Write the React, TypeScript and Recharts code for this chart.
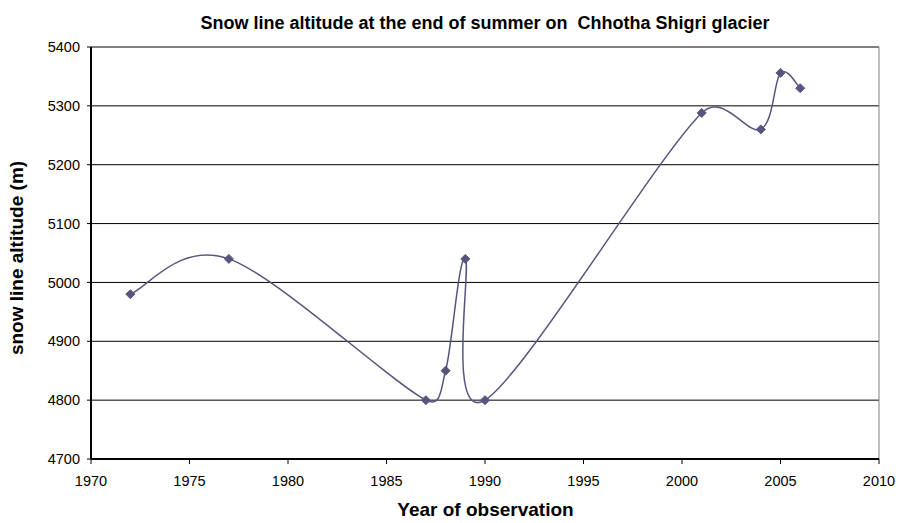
import React from 'react';
import { LineChart, Line, XAxis, YAxis, CartesianGrid, ReferenceLine } from 'recharts';

const years = [1972, 1977, 1987, 1988, 1989, 1990, 2001, 2004, 2005, 2006];
const altitudes = [4980, 5040, 4800, 4850, 5040, 4800, 5288, 5260, 5356, 5330];
const xTicks = [1970, 1975, 1980, 1985, 1990, 1995, 2000, 2005, 2010];
const yTicks = [4700, 4800, 4900, 5000, 5100, 5200, 5300, 5400];

const data = years.map((y, i) => ({ year: y, alt: altitudes[i] }));

const LINE = '#55557f';
const FONT = 'Liberation Sans, Arial, sans-serif';

function dist(a: number[], b: number[]) {
  return Math.hypot(a[0] - b[0], a[1] - b[1]);
}

// Excel-style smoothed line (Catmull-Rom with control points capped at half segment length)
function excelCurve(context: any) {
  let pts: number[][] = [];
  return {
    areaStart() {},
    areaEnd() {},
    lineStart() {
      pts = [];
    },
    point(x: number, y: number) {
      pts.push([+x, +y]);
    },
    lineEnd() {
      const n = pts.length;
      if (!n) return;
      context.moveTo(pts[0][0], pts[0][1]);
      for (let i = 0; i < n - 1; i++) {
        const p0 = pts[i - 1] || pts[i];
        const p1 = pts[i];
        const p2 = pts[i + 1];
        const p3 = pts[i + 2] || p2;
        const d02 = dist(p0, p2);
        const d12 = dist(p1, p2);
        const d13 = dist(p1, p3);
        let f1 = 1 / 6;
        let f2 = 1 / 6;
        if (d02 / 6 >= d12 / 2 && d02 > 0) f1 = d12 / (2 * d02);
        if (d13 / 6 >= d12 / 2 && d13 > 0) f2 = d12 / (2 * d13);
        const c1x = p1[0] + (p2[0] - p0[0]) * f1;
        const c1y = p1[1] + (p2[1] - p0[1]) * f1;
        const c2x = p2[0] - (p3[0] - p1[0]) * f2;
        const c2y = p2[1] - (p3[1] - p1[1]) * f2;
        context.bezierCurveTo(c1x, c1y, c2x, c2y, p2[0], p2[1]);
      }
    },
  };
}

const Diamond = (props: any) => {
  const { cx, cy, index } = props;
  if (cx == null || cy == null) return null;
  const s = 4.5;
  return (
    <polygon
      key={`d-${index}`}
      points={`${cx},${cy - s} ${cx + s},${cy} ${cx},${cy + s} ${cx - s},${cy}`}
      fill={LINE}
      stroke={LINE}
      strokeWidth={1}
    />
  );
};

const titleStyle = { fontFamily: FONT, fontSize: 18, fontWeight: 'bold' as const, whiteSpace: 'pre' as const };
const axisLabelStyle = { fontFamily: FONT, fontSize: 19, fontWeight: 'bold' as const };

export default function App() {
  return (
    <div style={{ position: 'absolute', left: 0, top: 0, background: '#fff' }}>
      <LineChart width={898} height={523} data={data} margin={{ top: 47, right: 19, bottom: 0, left: 0 }}>
        <text x={485} y={29} textAnchor="middle" style={titleStyle} fill="#000">
          {'Snow line altitude at the end of summer on  Chhotha Shigri glacier'}
        </text>
        <text x={485.5} y={516} textAnchor="middle" style={axisLabelStyle} fill="#000">
          Year of observation
        </text>
        <text transform="translate(23,258) rotate(-90)" textAnchor="middle" style={axisLabelStyle} fill="#000">
          snow line altitude (m)
        </text>
        <CartesianGrid vertical={false} stroke="#000" strokeWidth={1} />
        <XAxis
          dataKey="year"
          type="number"
          domain={[1970, 2010]}
          ticks={xTicks}
          interval={0}
          height={64}
          axisLine={{ stroke: '#000', strokeWidth: 2 }}
          tickLine={{ stroke: '#000', strokeWidth: 1 }}
          tickSize={5}
          tickMargin={12}
          tick={{ fill: '#000', fontSize: 14.5, fontFamily: FONT }}
        />
        <YAxis
          type="number"
          domain={[4700, 5400]}
          ticks={yTicks}
          interval={0}
          width={91}
          axisLine={{ stroke: '#000', strokeWidth: 2 }}
          tickLine={{ stroke: '#000', strokeWidth: 1 }}
          tickSize={4}
          tickMargin={7}
          tick={{ fill: '#000', fontSize: 14.5, fontFamily: FONT }}
        />
        <ReferenceLine x={2010} stroke="#808080" strokeWidth={1} />
        <Line
          dataKey="alt"
          type={excelCurve as any}
          stroke={LINE}
          strokeWidth={1.5}
          dot={<Diamond />}
          activeDot={false}
          isAnimationActive={false}
        />
      </LineChart>
    </div>
  );
}
